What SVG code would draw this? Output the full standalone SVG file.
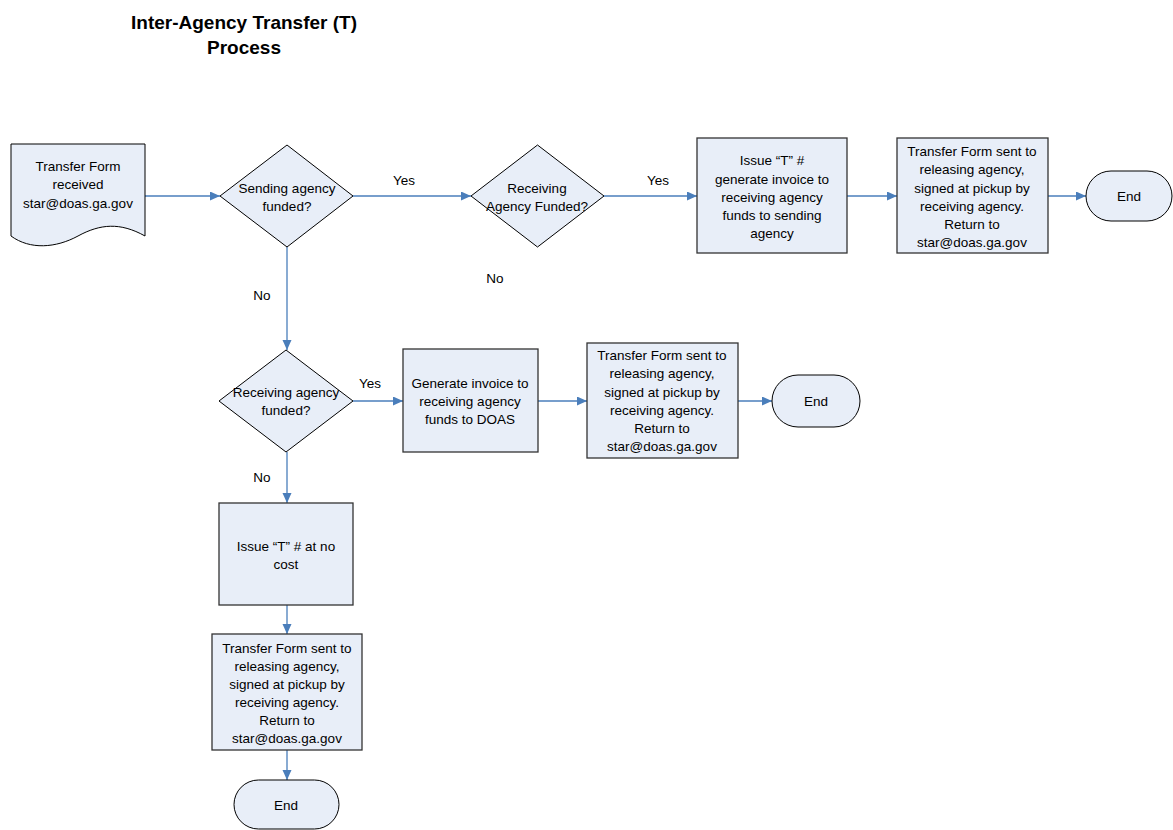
<svg xmlns="http://www.w3.org/2000/svg" width="1173" height="830" viewBox="0 0 1173 830">
<style>
.shape{fill:#e8eef8;stroke:#000;stroke-width:1}
.box{fill:#e8eef8;stroke:#333;stroke-width:1.3}
.t{font-family:"Liberation Sans",Arial,sans-serif;font-size:13.5px;fill:#000;text-anchor:middle;dominant-baseline:central}
.lbl{font-family:"Liberation Sans",Arial,sans-serif;font-size:13.5px;fill:#000;text-anchor:middle;dominant-baseline:central}
.title{font-family:"Liberation Sans",Arial,sans-serif;font-size:19px;font-weight:bold;fill:#000;text-anchor:middle;dominant-baseline:central}
.c{fill:none;stroke:#4a7ebb;stroke-width:1.3;marker-end:url(#ah)}
</style>
<defs>
<marker id="ah" markerUnits="userSpaceOnUse" markerWidth="11" markerHeight="10" refX="10" refY="4.5" orient="auto">
<path d="M0,0 L10,4.5 L0,9 Z" fill="#4a7ebb"/>
</marker>
</defs>
<rect width="1173" height="830" fill="#fff"/>
<g id="title">
<text class="title" x="244" y="22">Inter-Agency Transfer (T)</text>
<text class="title" x="244" y="47">Process</text>
</g>
<g id="connectors">
<path class="c" d="M145,196 H220"/>
<path class="c" d="M353,196 H471"/>
<path class="c" d="M604,196 H697"/>
<path class="c" d="M847,196 H897"/>
<path class="c" d="M1048,196 H1086"/>
<path class="c" d="M287,247 V350"/>
<path class="c" d="M353,401 H403"/>
<path class="c" d="M538,401 H587"/>
<path class="c" d="M738,401 H772"/>
<path class="c" d="M287,452 V503"/>
<path class="c" d="M287,605 V634"/>
<path class="c" d="M287,750 V780"/>
<text class="lbl" x="404" y="180">Yes</text>
<text class="lbl" x="658" y="180">Yes</text>
<text class="lbl" x="495" y="278">No</text>
<text class="lbl" x="262" y="295">No</text>
<text class="lbl" x="370" y="383">Yes</text>
<text class="lbl" x="262" y="477">No</text>
</g>
<g id="n-start">
<path class="shape" d="M11,144 H145 V236 C120,222 100,224 78,236 C56,248 30,250 11,236 Z"/>
<text class="t" x="78" y="166">Transfer Form</text>
<text class="t" x="78" y="184">received</text>
<text class="t" x="78" y="203">star@doas.ga.gov</text>
</g>
<g id="n-d1">
<path class="shape" d="M287,145 L353,196 L287,247 L220,196 Z"/>
<text class="t" x="287" y="188">Sending agency</text>
<text class="t" x="287" y="206">funded?</text>
</g>
<g id="n-d2">
<path class="shape" d="M537.5,145 L604,196 L537.5,247 L471,196 Z"/>
<text class="t" x="537" y="188">Receiving</text>
<text class="t" x="537" y="206">Agency Funded?</text>
</g>
<g id="n-b1">
<rect class="box" x="697" y="138" width="150" height="115"/>
<text class="t" x="772" y="160">Issue “T” #</text>
<text class="t" x="772" y="179">generate invoice to</text>
<text class="t" x="772" y="197">receiving agency</text>
<text class="t" x="772" y="215">funds to sending</text>
<text class="t" x="772" y="233">agency</text>
</g>
<g id="n-b2">
<rect class="box" x="897" y="138" width="151" height="115"/>
<text class="t" x="972" y="151">Transfer Form sent to</text>
<text class="t" x="972" y="169">releasing agency,</text>
<text class="t" x="972" y="188">signed at pickup by</text>
<text class="t" x="972" y="206">receiving agency.</text>
<text class="t" x="972" y="224">Return to</text>
<text class="t" x="972" y="242">star@doas.ga.gov</text>
</g>
<g id="n-end1">
<rect class="shape" x="1086" y="171" width="86" height="50" rx="25"/>
<text class="t" x="1129" y="196">End</text>
</g>
<g id="n-d3">
<path class="shape" d="M286,350 L353,401 L286,452 L219,401 Z"/>
<text class="t" x="286" y="392">Receiving agency</text>
<text class="t" x="286" y="410">funded?</text>
</g>
<g id="n-b3">
<rect class="box" x="403" y="349" width="135" height="103"/>
<text class="t" x="470" y="383">Generate invoice to</text>
<text class="t" x="470" y="401">receiving agency</text>
<text class="t" x="470" y="419">funds to DOAS</text>
</g>
<g id="n-b4">
<rect class="box" x="587" y="343" width="151" height="115"/>
<text class="t" x="662" y="355">Transfer Form sent to</text>
<text class="t" x="662" y="373">releasing agency,</text>
<text class="t" x="662" y="392">signed at pickup by</text>
<text class="t" x="662" y="410">receiving agency.</text>
<text class="t" x="662" y="428">Return to</text>
<text class="t" x="662" y="446">star@doas.ga.gov</text>
</g>
<g id="n-end2">
<rect class="shape" x="772" y="375" width="88" height="52" rx="26"/>
<text class="t" x="816" y="401">End</text>
</g>
<g id="n-b5">
<rect class="box" x="219" y="503" width="134" height="102"/>
<text class="t" x="286" y="546">Issue “T” # at no</text>
<text class="t" x="286" y="564">cost</text>
</g>
<g id="n-b6">
<rect class="box" x="212" y="634" width="150" height="116"/>
<text class="t" x="287" y="648">Transfer Form sent to</text>
<text class="t" x="287" y="666">releasing agency,</text>
<text class="t" x="287" y="684">signed at pickup by</text>
<text class="t" x="287" y="702">receiving agency.</text>
<text class="t" x="287" y="720">Return to</text>
<text class="t" x="287" y="738">star@doas.ga.gov</text>
</g>
<g id="n-end3">
<rect class="shape" x="234" y="780" width="105" height="49" rx="24.5"/>
<text class="t" x="286" y="805">End</text>
</g>
</svg>
